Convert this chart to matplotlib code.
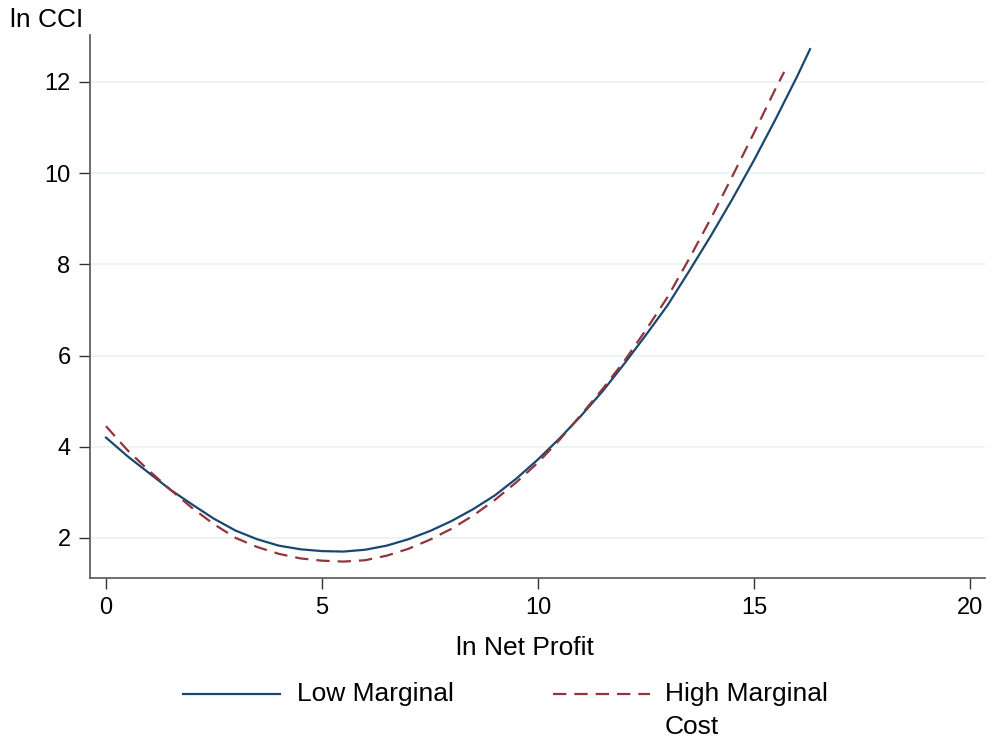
import matplotlib
matplotlib.use("Agg")
import matplotlib.pyplot as plt
from matplotlib.lines import Line2D

plt.rcParams['font.family'] = ['Liberation Sans', 'DejaVu Sans']

# Low marginal cost curve
low_x = [0, 0.5, 1, 1.5, 2, 2.5, 3, 3.5, 4, 4.5, 5, 5.5, 6, 6.5, 7, 7.5, 8, 8.5,
         9, 9.5, 10, 10.5, 11, 11.5, 12, 12.5, 13, 13.5, 14, 14.5, 15, 15.5, 16, 16.3]
low_y = [4.20, 3.79, 3.42, 3.05, 2.73, 2.42, 2.16, 1.97, 1.83, 1.75, 1.71, 1.70,
         1.74, 1.83, 1.97, 2.15, 2.37, 2.63, 2.93, 3.30, 3.72, 4.18, 4.68, 5.22,
         5.82, 6.45, 7.10, 7.85, 8.62, 9.43, 10.28, 11.18, 12.12, 12.72]

# High marginal cost curve
high_x = [0, 0.5, 1, 1.5, 2, 2.5, 3, 3.5, 4, 4.5, 5, 5.5, 6, 6.5, 7, 7.5, 8, 8.5,
          9, 9.5, 10, 10.5, 11, 11.5, 12, 12.5, 13, 13.5, 14, 14.5, 15, 15.5, 15.7]
high_y = [4.45, 3.92, 3.47, 3.05, 2.65, 2.30, 2.00, 1.80, 1.65, 1.55, 1.50, 1.48,
          1.51, 1.61, 1.76, 1.96, 2.20, 2.49, 2.83, 3.22, 3.65, 4.15, 4.70, 5.27,
          5.88, 6.56, 7.28, 8.12, 9.00, 9.93, 10.88, 11.85, 12.22]

x_ticks = [0, 5, 10, 15, 20]
y_ticks = [2, 4, 6, 8, 10, 12]
labels = ["Low Marginal", "High Marginal\nCost"]

W, H = 992, 743
fig = plt.figure(figsize=(W/100, H/100), dpi=100)
ax = fig.add_axes([90/W, 1-578/H, 895/W, (578-35)/H])

c_low, c_high = "#1a476f", "#90353b"
dash = (0, (6.0, 3.6))

for yt in y_ticks:
    ax.axhline(yt, color="#eaf2f3", lw=1.2, zorder=0)

ax.plot(low_x, low_y, color=c_low, lw=1.6, zorder=3)
ax.plot(high_x, high_y, color=c_high, lw=1.6, ls=dash, zorder=3)

ax.set_xlim(-0.37, 20.35)
ax.set_ylim(1.12, 13.03)
ax.set_xticks(x_ticks)
ax.set_yticks(y_ticks)
ax.tick_params(axis='both', direction='out', length=8, width=1, color="#333333",
               labelsize=17, pad=6)
for s in ['top', 'right']:
    ax.spines[s].set_visible(False)
for s in ['left', 'bottom']:
    ax.spines[s].set_color("#555555")
    ax.spines[s].set_linewidth(1.2)

fs_title = 19
fig.text(10/W, 1-20/H, "ln CCI", fontsize=fs_title, ha='left', va='center')
fig.text(525/W, 1-648/H, "ln Net Profit", fontsize=fs_title, ha='center', va='center')

# legend drawn by hand (Stata style: key aligned with first text line)
ly = 1-694/H
fig.add_artist(Line2D([183/W, 280/W], [ly, ly], color=c_low, lw=1.6,
                      transform=fig.transFigure))
fig.text(297/W, ly, labels[0], fontsize=fs_title, ha='left', va='center')
fig.add_artist(Line2D([553/W, 650/W], [ly, ly], color=c_high, lw=1.6, ls=dash,
                      transform=fig.transFigure))
for i, line in enumerate(labels[1].split("\n")):
    fig.text(665/W, 1-(694+33*i)/H, line, fontsize=fs_title, ha='left', va='center')

fig.savefig("out.png", dpi=100)
